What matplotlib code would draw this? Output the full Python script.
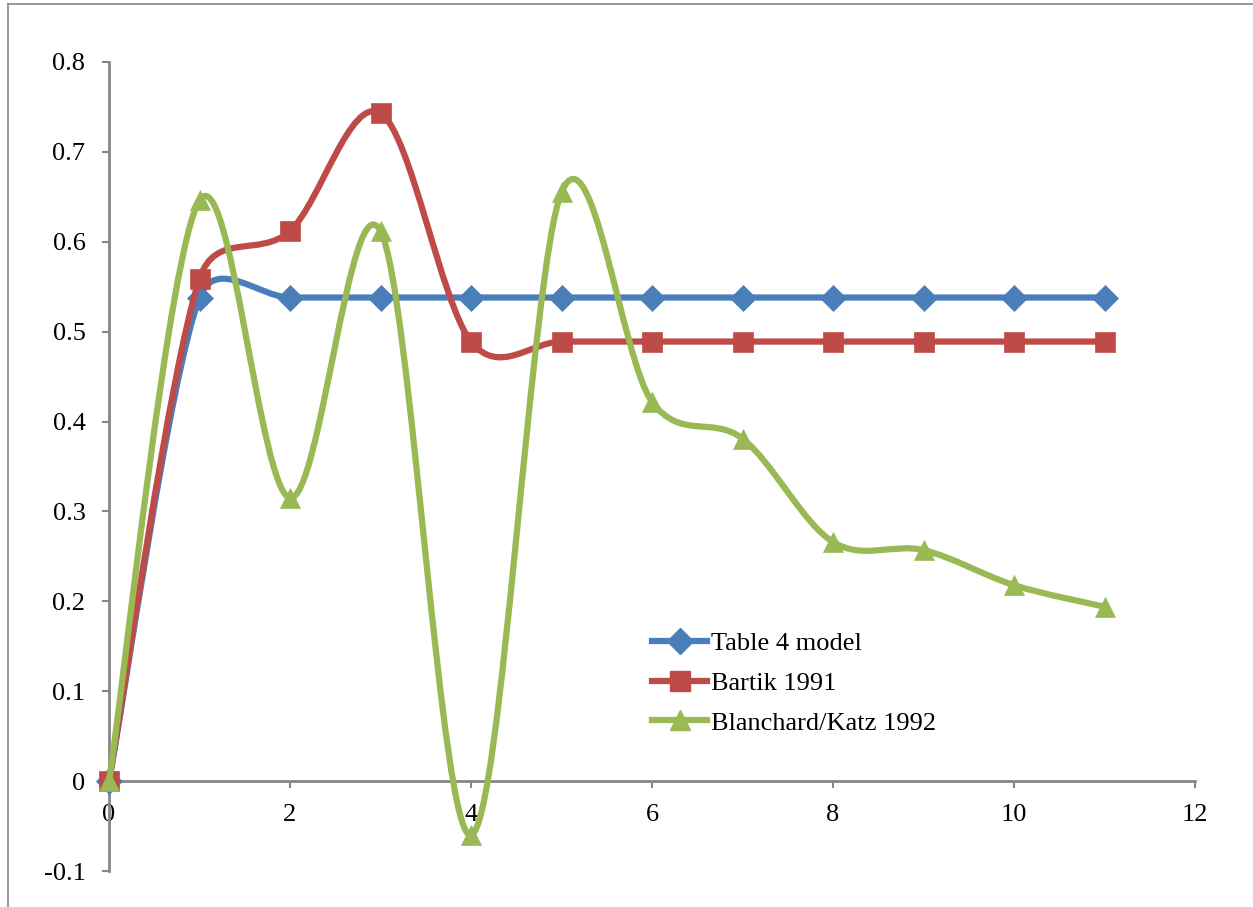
import numpy as np
import matplotlib
matplotlib.use("Agg")
from matplotlib import pyplot as plt
from matplotlib.path import Path
from matplotlib.patches import PathPatch
from matplotlib.lines import Line2D
from matplotlib.ticker import FuncFormatter

periodos = [0, 1, 2, 3, 4, 5, 6, 7, 8, 9, 10, 11]
table4_model = [0, 0.538, 0.538, 0.538, 0.538, 0.538, 0.538, 0.538, 0.538, 0.538, 0.538, 0.538]
bartik_1991 = [0, 0.559, 0.612, 0.743, 0.489, 0.489, 0.489, 0.489, 0.489, 0.489, 0.489, 0.489]
blanchard_katz_1992 = [0, 0.646, 0.315, 0.612, -0.060, 0.655, 0.422, 0.381, 0.266, 0.257, 0.218, 0.194]

nombres = ["Table 4 model", "Bartik 1991", "Blanchard/Katz 1992"]
colores = ["#4A7EBB", "#BE4B48", "#98B954"]
marcadores = ["D", "s", "^"]
tam_marcadores = [13.5, 14.5, 14.5]

gris = "#868686"
W, H = 1253, 907

plt.rcParams['font.family'] = ['Liberation Serif', 'DejaVu Serif']
plt.rcParams['font.size'] = 19
plt.rcParams['axes.unicode_minus'] = False


def curva_suave(ax, xs, ys, f=1 / 6):
    # curva tipo Excel: bezier con tangentes de Catmull-Rom, limitadas a media longitud del tramo
    pts = ax.transData.transform(np.column_stack([xs, ys]))
    n = len(pts)
    verts = [pts[0]]
    codes = [Path.MOVETO]
    for i in range(n - 1):
        p0 = pts[max(i - 1, 0)]
        p1 = pts[i]
        p2 = pts[i + 1]
        p3 = pts[min(i + 2, n - 1)]
        tramo = np.hypot(*(p2 - p1))
        t1 = (p2 - p0) * f
        t2 = (p3 - p1) * f
        l1 = np.hypot(*t1)
        l2 = np.hypot(*t2)
        if l1 > tramo / 2:
            t1 = t1 * (tramo / 2) / l1
        if l2 > tramo / 2:
            t2 = t2 * (tramo / 2) / l2
        verts += [p1 + t1, p2 - t2, p2]
        codes += [Path.CURVE4] * 3
    verts = ax.transData.inverted().transform(np.array(verts))
    return Path(verts, codes)


fig = plt.figure(figsize=(W / 100, H / 100), dpi=100)
ax = fig.add_axes([109 / W, (H - 871) / H, (1195 - 109) / W, (871 - 62) / H])
ax.set_xlim(0, 12)
ax.set_ylim(-0.1, 0.8)
ax.set_autoscale_on(False)

series = [table4_model, bartik_1991, blanchard_katz_1992]
for k, datos in enumerate(series):
    camino = curva_suave(ax, periodos, datos)
    ax.add_patch(PathPatch(camino, facecolor='none', edgecolor=colores[k], lw=4.5,
                           capstyle='round', joinstyle='round', clip_on=False, zorder=3 + k))
    ax.plot(periodos, datos, linestyle='none', marker=marcadores[k], ms=tam_marcadores[k],
            color=colores[k], markeredgewidth=0.5, clip_on=False, zorder=3.5 + k)

for lado in ['top', 'right']:
    ax.spines[lado].set_visible(False)
ax.spines['bottom'].set_position(('data', 0))
for lado in ['left', 'bottom']:
    ax.spines[lado].set_color(gris)
    ax.spines[lado].set_linewidth(2)

ax.set_yticks(np.arange(-0.1, 0.81, 0.1))
ax.yaxis.set_major_formatter(FuncFormatter(lambda v, p: f"{round(v, 1):g}"))
ax.set_xticks([0, 2, 4, 6, 8, 10, 12])
ax.tick_params(axis='y', direction='out', length=5, width=1.5, color=gris, pad=12)
ax.tick_params(axis='x', direction='out', length=5, width=1.5, color=gris, pad=11.5)

manejadores = [Line2D([], [], color=colores[k], lw=4.5, marker=marcadores[k], ms=tam_marcadores[k])
               for k in range(3)]
ax.legend(manejadores, nombres, loc='center left', bbox_to_anchor=(652 / W, 1 - 683 / H),
          bbox_transform=fig.transFigure, frameon=False, borderpad=0, borderaxespad=0,
          handlelength=2.1, handletextpad=0.12, labelspacing=0.62, fontsize=19)

# marco exterior del grafico
fig.add_artist(Line2D([8 / W, 8 / W], [0, 1 - 4 / H], color=gris, lw=1.2))
fig.add_artist(Line2D([8 / W, 1], [1 - 4 / H, 1 - 4 / H], color=gris, lw=1.2))

fig.savefig("out.png", dpi=100)
